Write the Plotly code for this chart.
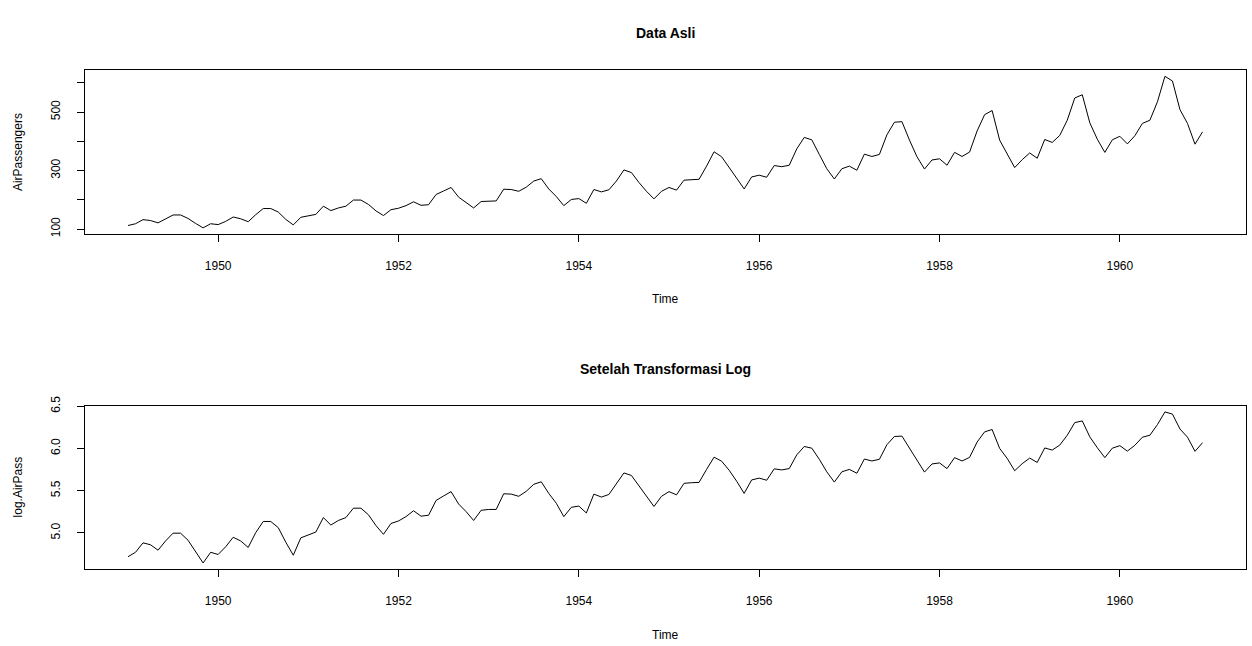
import numpy as np
import plotly.graph_objects as go

years = list(range(1949, 1961))
passengers = [
    112, 118, 132, 129, 121, 135, 148, 148, 136, 119, 104, 118,
    115, 126, 141, 135, 125, 149, 170, 170, 158, 133, 114, 140,
    145, 150, 178, 163, 172, 178, 199, 199, 184, 162, 146, 166,
    171, 180, 193, 181, 183, 218, 230, 242, 209, 191, 172, 194,
    196, 196, 236, 235, 229, 243, 264, 272, 237, 211, 180, 201,
    204, 188, 235, 227, 234, 264, 302, 293, 259, 229, 203, 229,
    242, 233, 267, 269, 270, 315, 364, 347, 312, 274, 237, 278,
    284, 277, 317, 313, 318, 374, 413, 405, 355, 306, 271, 306,
    315, 301, 356, 348, 355, 422, 465, 467, 404, 347, 305, 336,
    340, 318, 362, 348, 363, 435, 491, 505, 404, 359, 310, 337,
    360, 342, 406, 396, 420, 472, 548, 559, 463, 407, 362, 405,
    417, 391, 419, 461, 472, 535, 622, 606, 508, 461, 390, 432,
]
time = [y + m / 12 for y in years for m in range(12)]
log_pass = list(np.log(passengers))

x_ticks = [1950, 1952, 1954, 1956, 1958, 1960]
y1_ticks = [100, 200, 300, 400, 500, 600]
y1_text = ["100", "", "300", "", "500", ""]
y2_ticks = [5.0, 5.5, 6.0, 6.5]
y2_text = ["5.0", "5.5", "6.0", "6.5"]

W, H = 1252, 646


def ext(lo, hi):
    d = (hi - lo) * 0.04
    return [lo - d, hi + d]


xr = ext(min(time), max(time))
y1r = ext(min(passengers), max(passengers))
y2r = ext(min(log_pass), max(log_pass))

font = dict(family="Liberation Sans, Arial, sans-serif", size=12, color="black")

fig = go.Figure()
fig.add_trace(go.Scatter(x=time, y=passengers, mode="lines",
                         line=dict(color="black", width=1), xaxis="x", yaxis="y"))
fig.add_trace(go.Scatter(x=time, y=log_pass, mode="lines",
                         line=dict(color="black", width=1), xaxis="x2", yaxis="y2"))

xd = [85 / W, 1245.5 / W]
d1 = [1 - 228.5 / H, 1 - 61.5 / H]
d2 = [1 - 570.5 / H, 1 - 404 / H]

axcommon = dict(showline=True, mirror=True, linecolor="black", linewidth=1,
                ticks="outside", ticklen=7, tickcolor="black", tickwidth=1,
                showgrid=False, zeroline=False, tickfont=font)

fig.update_layout(
    width=W, height=H, margin=dict(l=0, r=0, t=0, b=0),
    paper_bgcolor="white", plot_bgcolor="white", showlegend=False,
    font=font,
    xaxis=dict(domain=xd, range=xr, anchor="y", tickvals=x_ticks,
               ticklabelstandoff=14, **axcommon),
    yaxis=dict(domain=d1, range=y1r, anchor="x", tickvals=y1_ticks,
               ticktext=y1_text, tickangle=-90, ticklabelstandoff=12, **axcommon),
    xaxis2=dict(domain=xd, range=xr, anchor="y2", tickvals=x_ticks,
                ticklabelstandoff=14, **axcommon),
    yaxis2=dict(domain=d2, range=y2r, anchor="x2", tickvals=y2_ticks,
                ticktext=y2_text, tickangle=-90, ticklabelstandoff=12, **axcommon),
)

cx = (xd[0] + xd[1]) / 2
ann = [
    dict(text="<b>Data Asli</b>", x=cx, y=1 - 23 / H, font=dict(size=14)),
    dict(text="<b>Setelah Transformasi Log</b>", x=cx, y=1 - 366 / H, font=dict(size=14)),
    dict(text="Time", x=cx, y=1 - 295 / H),
    dict(text="Time", x=cx, y=1 - 638 / H),
    dict(text="AirPassengers", x=18 / W, y=(d1[0] + d1[1]) / 2, textangle=-90),
    dict(text="log.AirPass", x=18 / W, y=(d2[0] + d2[1]) / 2, textangle=-90),
]
for a in ann:
    a.update(xref="paper", yref="paper", showarrow=False, xanchor="center", yanchor="middle")
    a.setdefault("font", {})
    a["font"] = dict(font, **a["font"])
    fig.add_annotation(**a)

fig.write_html("out.html")
